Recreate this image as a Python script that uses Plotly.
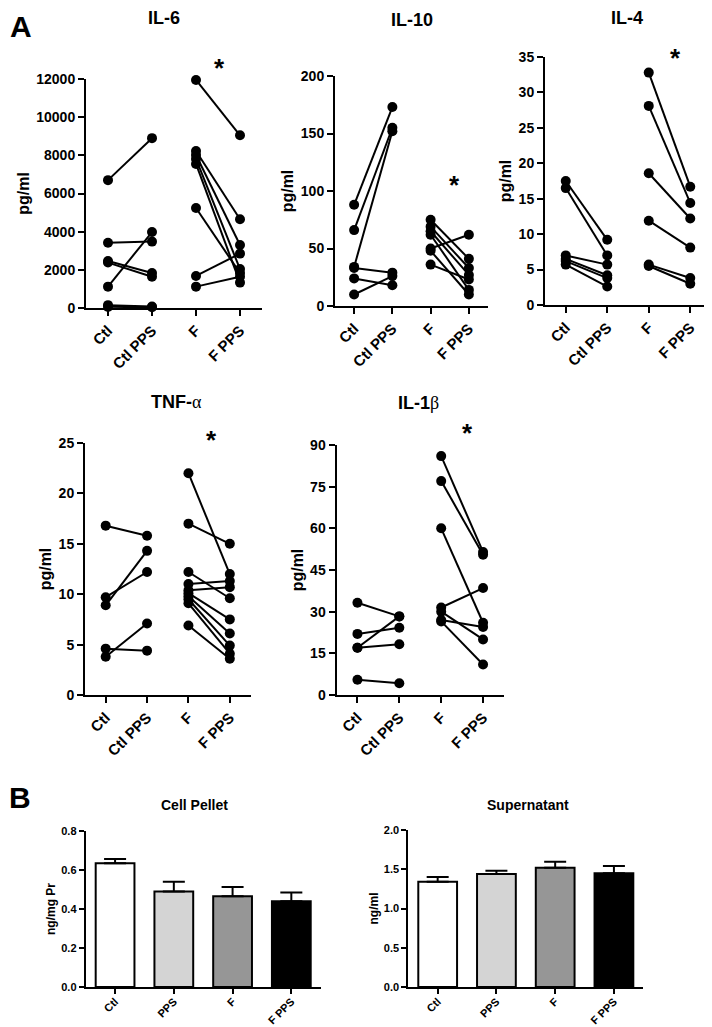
import plotly.graph_objects as go

# page is 712x1027; the html body keeps an 8px margin, so the figure is drawn smaller and
# all positions below are page pixels shifted by OFF
OFF = 8
W, H = 712 - OFF, 1027 - OFF
FONT = "Arial, 'Liberation Sans', sans-serif"

# paired panels (A): before -> after values per subject
groups = ["Ctl", "Ctl PPS", "F", "F PPS"]

il6_ctl = [6700, 3420, 2460, 2380, 1120, 150, 60]
il6_ctl_pps = [8900, 3480, 1830, 1640, 3980, 80, 40]
il6_f = [11950, 8230, 8020, 7810, 7550, 5240, 1680, 1120]
il6_f_pps = [9050, 4650, 3300, 2040, 1330, 1830, 2850, 1640]

il10_ctl = [88, 66, 34, 33, 24, 10]
il10_ctl_pps = [173, 155, 152, 29, 18, 26]
il10_f = [75, 69, 65, 62, 50, 48, 36]
il10_f_pps = [41, 33, 27, 14, 62, 10, 23]

il4_ctl = [17.5, 16.5, 7.0, 6.5, 6.2, 5.7]
il4_ctl_pps = [9.2, 7.0, 5.7, 4.2, 3.8, 2.6]
il4_f = [32.8, 28.1, 18.6, 11.9, 5.7, 5.5]
il4_f_pps = [16.7, 14.4, 12.2, 8.1, 3.8, 3.0]

tnf_ctl = [16.8, 9.7, 8.9, 4.6, 3.8]
tnf_ctl_pps = [15.8, 12.2, 14.3, 4.4, 7.1]
tnf_f = [22.0, 17.0, 12.2, 11.0, 10.4, 10.1, 9.8, 9.5, 9.1, 6.9]
tnf_f_pps = [12.0, 15.0, 9.6, 11.3, 10.7, 7.5, 6.1, 4.9, 4.1, 3.6]

il1b_ctl = [33.2, 22.0, 17.0, 17.0, 5.5]
il1b_ctl_pps = [28.3, 24.2, 28.3, 18.3, 4.2]
il1b_f = [86, 77, 60, 31.5, 30, 27, 26.5]
il1b_f_pps = [51.5, 50.5, 26, 38.5, 20, 24.5, 11]

# bar panels (B)
bar_groups = ["Ctl", "PPS", "F", "F PPS"]
bar_colors = ["white", "#d4d4d4", "#969696", "black"]
pellet_mean = [0.635, 0.49, 0.465, 0.44]
pellet_sem = [0.022, 0.05, 0.048, 0.045]
super_mean = [1.34, 1.44, 1.52, 1.45]
super_sem = [0.06, 0.04, 0.075, 0.09]

fig = go.Figure()


def dom_x(a, b):
    return [(a - OFF) / W, (b - OFF) / W]


def dom_y(top, bottom):
    return [1 - (bottom - OFF) / H, 1 - (top - OFF) / H]


def ax(n):
    return "" if n == 1 else str(n)


def paired(n, pairs):
    xs, ys = [], []
    for g0, g1, before, after in pairs:
        for a, b in zip(before, after):
            xs += [g0, g1, None]
            ys += [a, b, None]
    fig.add_trace(go.Scatter(
        x=xs, y=ys, xaxis="x" + ax(n), yaxis="y" + ax(n),
        mode="lines+markers", cliponaxis=False, showlegend=False,
        line=dict(color="black", width=2),
        marker=dict(color="black", size=10),
    ))


paired(1, [("Ctl", "Ctl PPS", il6_ctl, il6_ctl_pps), ("F", "F PPS", il6_f, il6_f_pps)])
paired(2, [("Ctl", "Ctl PPS", il10_ctl, il10_ctl_pps), ("F", "F PPS", il10_f, il10_f_pps)])
paired(3, [("Ctl", "Ctl PPS", il4_ctl, il4_ctl_pps), ("F", "F PPS", il4_f, il4_f_pps)])
paired(4, [("Ctl", "Ctl PPS", tnf_ctl, tnf_ctl_pps), ("F", "F PPS", tnf_f, tnf_f_pps)])
paired(5, [("Ctl", "Ctl PPS", il1b_ctl, il1b_ctl_pps), ("F", "F PPS", il1b_f, il1b_f_pps)])

for n, mean, sem in [(6, pellet_mean, pellet_sem), (7, super_mean, super_sem)]:
    fig.add_trace(go.Bar(
        x=bar_groups, y=mean, xaxis="x" + ax(n), yaxis="y" + ax(n),
        width=0.66, showlegend=False,
        marker=dict(color=bar_colors, line=dict(color="black", width=2)),
        error_y=dict(type="data", array=sem, arrayminus=[0] * len(sem), symmetric=False,
                     color="black", thickness=2, width=11),
    ))

line_style = dict(showline=True, linecolor="black", linewidth=2, ticks="outside",
                  tickwidth=2, tickcolor="black", showgrid=False,
                  zeroline=False, automargin=False)

panels = [
    # n, x domain px, y domain px (top, bottom), y range, dtick, categories, title,
    # x tick size, y tick size, y title size, format, ticklen, x label shift
    (1, (86, 262), (79, 308), [0, 12000], 2000, groups, "pg/ml", 15, 14, 16, "d", 6, 0),
    (2, (335, 488), (76, 306), [0, 200], 50, groups, "pg/ml", 15, 14, 16, "d", 6, 0),
    (3, (545, 711), (57, 305), [0, 35], 5, groups, "pg/ml", 15, 14, 16, "d", 6, 0),
    (4, (85, 250.5), (443, 695), [0, 25], 5, groups, "pg/ml", 15, 14, 16, "d", 6, 0),
    (5, (336.5, 504), (445, 695), [0, 90], 15, groups, "pg/ml", 15, 14, 16, "d", 6, 0),
    (6, (85.7, 320.7), (831, 987), [0, 0.8], 0.2, bar_groups, "ng/mg Pr", 11, 11, 12, ".1f", 5, -3),
    (7, (408.3, 643.3), (830, 987), [0, 2.0], 0.5, bar_groups, "ng/ml", 11, 11, 12, ".1f", 5, -3),
]

for n, xd, yd, yr, dt, cats, ytitle, xfs, yfs, tfs, fmt, tl, shift in panels:
    fig.layout["xaxis" + ax(n)] = dict(
        domain=dom_x(*xd), anchor="y" + ax(n), type="category",
        categoryorder="array", categoryarray=cats, range=[-0.5, 3.5],
        tickangle=-45, ticklen=tl, ticklabelstandoff=shift,
        tickfont=dict(family=FONT, size=xfs, color="black", weight="bold"),
        **line_style)
    fig.layout["yaxis" + ax(n)] = dict(
        domain=dom_y(*yd), anchor="x" + ax(n), range=yr, dtick=dt,
        tickformat=fmt, ticklen=tl,
        tickfont=dict(family=FONT, size=yfs, color="black", weight="bold"),
        title=dict(text=ytitle, standoff=3,
                   font=dict(family=FONT, size=tfs, color="black", weight="bold")),
        **line_style)

greek = "<span style='font-weight:normal;font-family:serif'>{}</span>"

# titles and asterisks (page pixel positions)
texts = [
    ("IL-6", 164, 18, 18), ("IL-10", 412, 20, 18), ("IL-4", 627, 18, 18),
    ("TNF-" + greek.format("α"), 176, 402, 18), ("IL-1" + greek.format("β"), 418, 403, 18),
    ("Cell Pellet", 194, 805, 14), ("Supernatant", 528, 805, 14),
    ("*", 219, 68, 26), ("*", 454, 185, 26), ("*", 675, 58, 26),
    ("*", 211, 440, 26), ("*", 467, 433, 26),
    ("B", 20, 797, 30),
]
for txt, x, y, size in texts:
    fig.add_annotation(text=txt, x=(x - OFF) / W, y=1 - (y - OFF) / H,
                       xref="paper", yref="paper",
                       showarrow=False, xanchor="center", yanchor="middle",
                       font=dict(family=FONT, size=size, color="black", weight="bold"))

# panel letter A sits against the top-left corner
fig.add_annotation(text="A", x=0, y=1, xref="paper", yref="paper", showarrow=False,
                   xanchor="left", yanchor="top",
                   font=dict(family=FONT, size=30, color="black", weight="bold"))

fig.update_layout(
    width=W, height=H, margin=dict(l=0, r=0, t=0, b=0),
    paper_bgcolor="white", plot_bgcolor="white",
    font=dict(family=FONT, color="black"),
)

fig.write_html("out.html")
